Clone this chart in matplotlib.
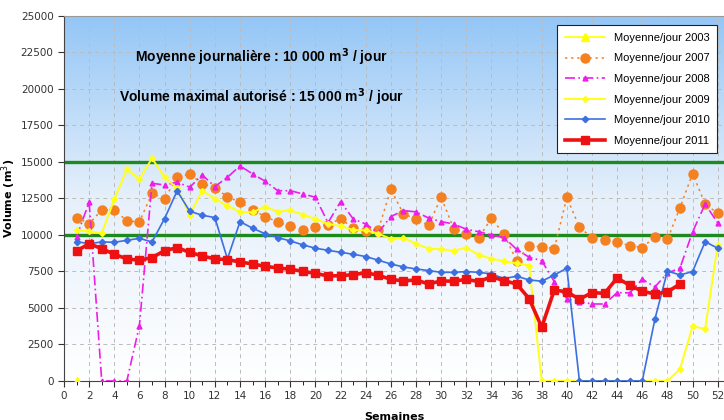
import numpy as np
import matplotlib
matplotlib.use("Agg")
from matplotlib import pyplot as plt

# semaines
weeks = list(range(1, 53))

# volumes moyens par jour (m3)
v2003 = [0]
v2007 = [11190, 10770, 11710, 11730, 10960, 10890, 12850, 12470, 13970, 14160,
         13520, 13220, 12620, 12240, 11710, 11260, 10880, 10590, 10360, 10520,
         10710, 11100, 10480, 10250, 10360, 13130, 11440, 11100, 10660, 12580,
         10430, 10050, 9820, 11140, 10050, 8240, 9250, 9200, 9060, 12580,
         10520, 9820, 9630, 9500, 9270, 9130, 9880, 9700, 11870, 14200,
         12120, 11480]
v2008 = [9880, 12240, 0, 0, 0, 3790, 13540, 13420, 13610, 13270,
         14110, 13310, 13950, 14730, 14180, 13680, 13030, 13030, 12810, 12580,
         10840, 12280, 11100, 10750, 10160, 11260, 11670, 11580, 11160, 10910,
         10750, 10390, 10220, 10000, 9820, 9020, 8470, 8240, 6800, 5640,
         5430, 5270, 5270, 6050, 6030, 6970, 6440, 7380, 7740, 10200,
         12120, 10820]
v2009 = [10340, 10250, 10110, 12440, 14500, 13820, 15250, 13950, 13200, 11390,
         13030, 12470, 11990, 11580, 11550, 11940, 11590, 11690, 11390, 11100,
         10750, 10620, 10340, 10320, 10090, 9730, 9790, 9400, 9060, 9020,
         8920, 9130, 8630, 8380, 8200, 8060, 7900, 0, 0, 0,
         0, 0, 0, 0, 0, 0, 0, 0, 820, 3740,
         3570, 9320]
v2010 = [9540, 9400, 9520, 9500, 9630, 9770, 9520, 11120, 13020, 11620,
         11350, 11190, 8360, 10910, 10460, 10080, 9820, 9590, 9320, 9090,
         8950, 8810, 8680, 8520, 8270, 8010, 7810, 7670, 7560, 7440,
         7440, 7490, 7440, 7330, 7010, 7170, 6920, 6830, 7260, 7720,
         0, 0, 0, 0, 0, 0, 4220, 7530, 7260, 7490,
         9540, 9090]
v2011 = [8900, 9400, 9060, 8680, 8360, 8270, 8450, 8920, 9130, 8810,
         8560, 8360, 8310, 8150, 8010, 7850, 7740, 7650, 7510, 7370,
         7190, 7210, 7280, 7410, 7240, 6960, 6850, 6920, 6640, 6850,
         6830, 6960, 6800, 7140, 6870, 6640, 5640, 3680, 6230, 6100,
         5600, 6050, 6000, 7050, 6550, 6140, 5960, 6100, 6640]

moyenne = 10000
maximum = 15000

fig = plt.figure(figsize=(7.24, 4.2), dpi=100)
ax = fig.add_axes([0.0884, 0.093, 0.9116, 0.869])

# fond en degrade bleu -> blanc
grad = np.linspace(0, 1, 256).reshape(-1, 1)
cmap = matplotlib.colors.LinearSegmentedColormap.from_list("fond", ["#ffffff", "#e6f0fb", "#94c6f6"])
ax.imshow(grad, extent=[0, 52.5, 0, 25000], origin="lower", aspect="auto", cmap=cmap, zorder=0)

ax.axhline(maximum, color="#1e8a1e", lw=2.4, zorder=2)
ax.axhline(moyenne, color="#1e8a1e", lw=2.4, zorder=2)

ax.plot(weeks[:len(v2003)], v2003, color="#ffff00", lw=1.2, marker="^", ms=6, label="Moyenne/jour 2003", zorder=3)
ax.plot(weeks, v2007, color="#f4801f", lw=1.1, ls=(0, (1.5, 2.5)), marker="o", ms=6.5, label="Moyenne/jour 2007", zorder=3)
ax.plot(weeks, v2008, color="#ee1ee8", lw=1.2, ls=(0, (6, 2, 1, 2)), marker="^", ms=3.5, label="Moyenne/jour 2008", zorder=3)
ax.plot(weeks, v2009, color="#ffff1a", lw=1.4, marker="D", ms=3, label="Moyenne/jour 2009", zorder=3)
ax.plot(weeks, v2010, color="#3c6fe0", lw=1.2, marker="D", ms=3.2, label="Moyenne/jour 2010", zorder=4)
ax.plot(weeks[:len(v2011)], v2011, color="#ee1111", lw=2.6, marker="s", ms=6, label="Moyenne/jour 2011", zorder=5)

ax.set_xlim(0, 52.5)
ax.set_ylim(0, 25000)
ax.set_xticks(range(0, 53, 2))
ax.set_xticks(range(0, 53), minor=True)
ax.set_yticks(range(0, 25001, 2500))
ax.tick_params(labelsize=7.5, colors="#333333", length=4)
ax.tick_params(which="minor", length=3)
ax.set_axisbelow(True)
ax.grid(True, which="major", ls=(0, (4, 4)), color="#bbbbbb", lw=0.7)
ax.spines["right"].set_visible(False)
ax.spines["top"].set_color("#999999")
ax.spines["left"].set_color("#444444")
ax.spines["bottom"].set_color("#444444")

ax.set_ylabel("Volume (m$^3$)", fontsize=8, fontweight="bold", labelpad=2)
ax.set_xlabel("Semaines", fontsize=8, fontweight="bold", labelpad=8)

ax.text(15.7, 22200, "Moyenne journalière : 10 000 m$^{\\mathbf{3}}$ / jour", fontsize=10, fontweight="bold",
        family="Liberation Sans", ha="center", va="center", zorder=6)
ax.text(15.7, 19450, "Volume maximal autorisé : 15 000 m$^{\\mathbf{3}}$ / jour", fontsize=10, fontweight="bold",
        family="Liberation Sans", ha="center", va="center", zorder=6)

leg = ax.legend(loc="upper right", bbox_to_anchor=(0.998, 0.99), prop={"family": "Liberation Sans", "size": 8},
                fancybox=False, framealpha=1, edgecolor="#222222", handlelength=3.6, labelspacing=0.95,
                borderpad=0.7)
leg.get_frame().set_linewidth(0.8)

fig.savefig("out.png", dpi=100)
